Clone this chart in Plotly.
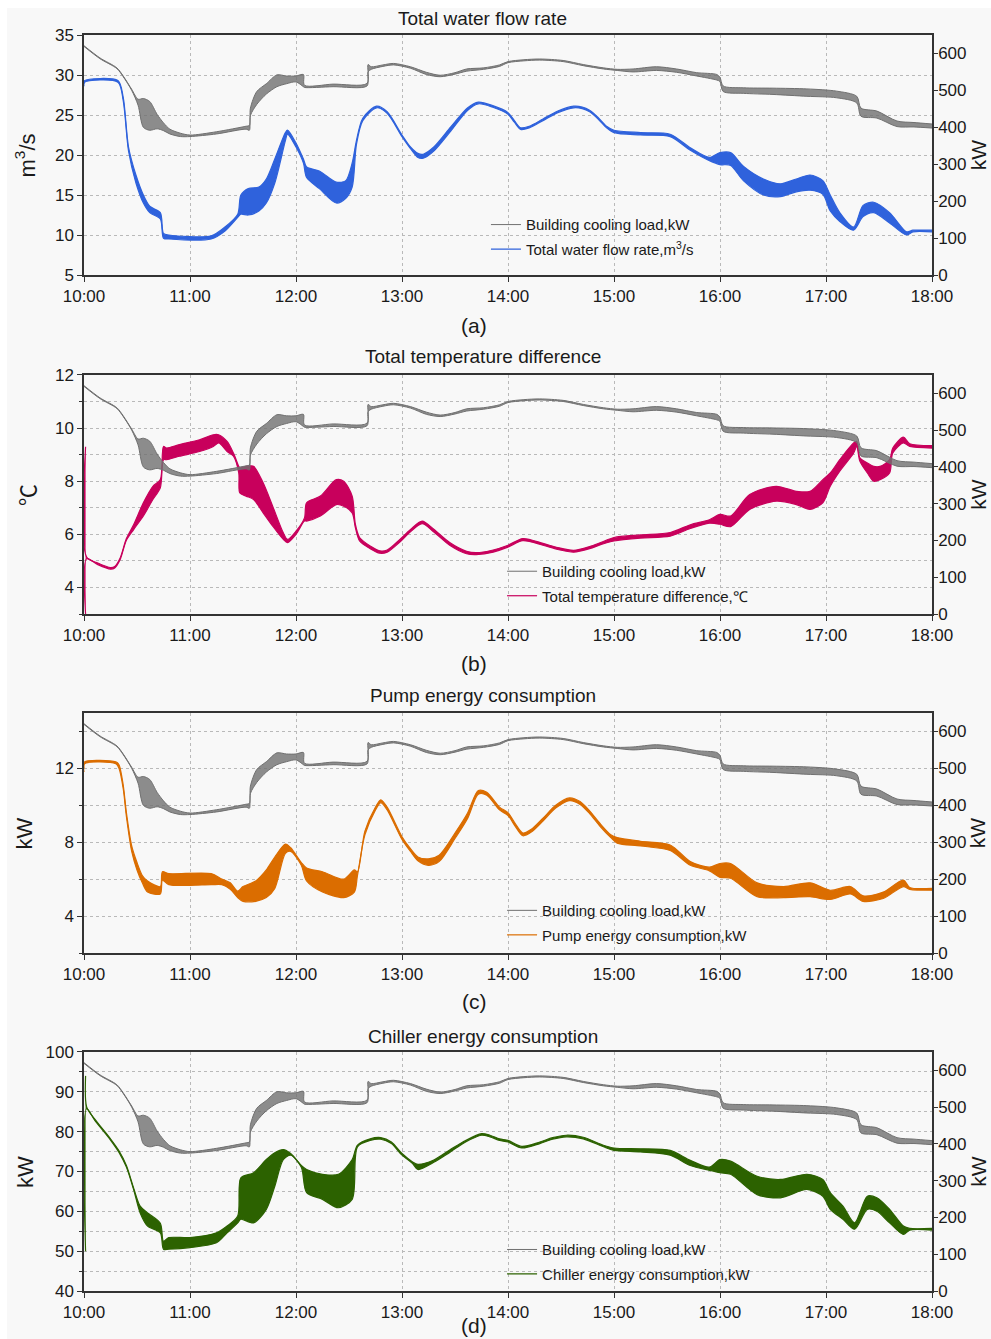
import plotly.graph_objects as go

# ---------------- time axis ----------------
HOUR_TICKS = [10, 11, 12, 13, 14, 15, 16, 17, 18]
HOUR_LABELS = ["10:00", "11:00", "12:00", "13:00", "14:00", "15:00", "16:00", "17:00", "18:00"]

# ---------------- building cooling load (kW), lower / upper envelope ----------------
T_LOAD = [10.00, 10.15, 10.31, 10.37, 10.45, 10.51, 10.56, 10.62, 10.69, 10.75, 10.81, 10.91,
          11.00, 11.25, 11.53, 11.56, 11.57, 11.63, 11.72, 11.82, 11.91, 12.00, 12.07, 12.08,
          12.35, 12.67, 12.68, 12.71, 12.82, 12.92, 13.08, 13.23, 13.36, 13.50, 13.61, 13.77, 13.92,
          14.00, 14.15, 14.30, 14.52, 14.71, 14.90, 15.03, 15.18, 15.40, 15.59, 15.78, 15.97, 16.00,
          16.03, 16.22, 16.50, 16.82, 17.10, 17.29, 17.33, 17.48, 17.67, 17.83, 18.00]
LOAD_LO = [619, 586, 559, 537, 500, 460, 400, 392, 396, 391, 382, 375,
           375, 382, 395, 392, 432, 462, 490, 510, 518, 523, 510, 508,
           510, 512, 550, 557, 565, 569, 560, 543, 537, 544, 552, 557, 565,
           575, 580, 582, 578, 567, 558, 554, 550, 554, 549, 539, 528, 524,
           497, 492, 489, 484, 480, 466, 430, 425, 402, 401, 398]
LOAD_HI = [621, 588, 561, 539, 503, 476, 478, 470, 435, 412, 395, 384,
           379, 388, 403, 405, 452, 497, 518, 542, 539, 539, 543, 514,
           517, 519, 570, 564, 569, 573, 564, 549, 541, 548, 558, 561, 569,
           578, 583, 585, 581, 570, 561, 557, 558, 564, 558, 548, 543, 535,
           512, 507, 506, 504, 498, 484, 452, 444, 417, 413, 409]

# ---------------- total water flow rate (m3/s) ----------------
T_FLOW = [10.000, 10.005, 10.32, 10.37, 10.42, 10.49, 10.56, 10.62, 10.72, 10.75, 10.80, 11.20,
          11.33, 11.45, 11.48, 11.55, 11.65, 11.72, 11.80, 11.90, 11.92, 12.00, 12.07, 12.10,
          12.22, 12.38, 12.47, 12.53, 12.57, 12.63, 12.76, 12.86, 13.00, 13.08, 13.15, 13.20, 13.30,
          13.46, 13.62, 13.72, 13.85, 14.00, 14.06, 14.12, 14.20, 14.33, 14.47, 14.62, 14.70, 14.77,
          14.85, 14.93, 15.00, 15.25, 15.53, 15.72, 15.90, 16.00, 16.10, 16.22, 16.41, 16.57, 16.72,
          16.85, 16.97, 17.04, 17.13, 17.26, 17.35, 17.45, 17.60, 17.76, 17.82, 18.00]
FLOW_LO = [28.6, 29.1, 29.1, 26.8, 20.5, 16.5, 14.0, 12.8, 12.0, 9.6, 9.5, 9.5,
           10.5, 12.2, 12.6, 12.5, 13.0, 14.0, 16.5, 21.8, 22.6, 21.0, 19.0, 17.2,
           15.8, 14.0, 14.6, 16.0, 21.3, 24.3, 25.9, 25.2, 22.3, 20.8, 19.7, 19.6, 20.5,
           23.0, 25.6, 26.4, 26.0, 25.1, 24.1, 23.2, 23.4, 24.3, 25.3, 25.9, 25.8, 25.4,
           24.5, 23.4, 22.8, 22.5, 22.3, 20.6, 19.3, 18.8, 18.7, 16.8, 15.0, 14.8, 15.4,
           15.6, 15.1, 13.0, 11.7, 10.6, 12.3, 12.8, 11.5, 10.0, 10.4, 10.4]
FLOW_HI = [28.9, 29.3, 29.3, 27.2, 21.0, 17.5, 15.0, 13.6, 12.8, 10.2, 10.0, 9.9,
           11.0, 12.6, 15.0, 15.8, 16.0, 17.0, 19.5, 22.8, 23.1, 21.5, 19.5, 18.5,
           18.0, 16.6, 16.8, 19.0, 21.8, 24.6, 26.1, 25.4, 22.5, 21.0, 20.2, 20.1, 21.0,
           23.5, 25.9, 26.6, 26.2, 25.3, 24.3, 23.4, 23.6, 24.5, 25.5, 26.1, 26.0, 25.6,
           24.7, 23.6, 23.1, 22.8, 22.6, 20.9, 19.7, 20.3, 20.3, 18.6, 17.0, 16.4, 17.0,
           17.5, 16.8, 15.0, 12.8, 11.0, 13.7, 14.1, 12.8, 10.4, 10.6, 10.6]

# ---------------- total temperature difference (degC) ----------------
T_DT = [10.015, 10.025, 10.13, 10.25, 10.29, 10.34, 10.40, 10.47, 10.56, 10.65, 10.72, 10.75,
        10.78, 10.90, 11.09, 11.22, 11.27, 11.35, 11.41, 11.46, 11.47, 11.53, 11.60, 11.69,
        11.78, 11.88, 11.92, 12.00, 12.08, 12.10, 12.23, 12.38, 12.45, 12.53, 12.56, 12.60,
        12.70, 12.79, 12.86, 12.98, 13.08, 13.19, 13.30, 13.45, 13.61, 13.70, 13.86, 14.00, 14.14,
        14.33, 14.47, 14.62, 14.77, 14.88, 15.00, 15.25, 15.53, 15.72, 15.90, 16.00, 16.10, 16.28,
        16.53, 16.72, 16.85, 16.97, 17.04, 17.13, 17.26, 17.29, 17.32, 17.39, 17.45, 17.51, 17.60,
        17.63, 17.73, 17.79, 18.00]
DT_LO = [3.00, 5.08, 4.86, 4.69, 4.73, 5.04, 5.78, 6.19, 6.69, 7.31, 7.75, 8.81,
         8.81, 8.94, 9.12, 9.31, 9.44, 9.12, 8.94, 8.31, 7.56, 7.44, 7.31, 6.81,
         6.31, 5.81, 5.69, 6.00, 6.50, 6.50, 6.69, 7.12, 7.06, 6.81, 6.25, 5.75,
         5.46, 5.29, 5.33, 5.71, 6.10, 6.40, 6.09, 5.59, 5.27, 5.24, 5.33, 5.52, 5.76,
         5.59, 5.43, 5.33, 5.46, 5.62, 5.75, 5.86, 5.93, 6.22, 6.42, 6.38, 6.29, 6.94,
         7.25, 7.12, 6.94, 7.19, 7.81, 8.38, 9.06, 9.31, 8.75, 8.31, 8.00, 8.06, 8.31,
         9.06, 9.44, 9.31, 9.25]
DT_HI = [9.30, 5.14, 4.92, 4.75, 4.79, 5.10, 5.84, 6.38, 7.19, 7.81, 8.06, 9.31,
         9.25, 9.38, 9.56, 9.75, 9.75, 9.50, 9.06, 8.56, 8.50, 8.56, 8.56, 7.94,
         7.06, 6.06, 5.81, 6.12, 6.62, 7.19, 7.44, 8.06, 8.00, 7.44, 6.38, 5.88,
         5.56, 5.38, 5.41, 5.81, 6.18, 6.50, 6.19, 5.69, 5.36, 5.31, 5.41, 5.59, 5.84,
         5.66, 5.50, 5.40, 5.54, 5.70, 5.88, 5.98, 6.07, 6.36, 6.55, 6.75, 6.69, 7.50,
         7.81, 7.62, 7.62, 8.06, 8.31, 8.81, 9.44, 9.50, 8.88, 8.69, 8.56, 8.56, 8.81,
         9.25, 9.66, 9.41, 9.34]

# ---------------- pump energy consumption (kW) ----------------
T_PUMP = [10.000, 10.005, 10.30, 10.33, 10.37, 10.40, 10.45, 10.50, 10.55, 10.60, 10.72, 10.74,
          10.80, 11.20, 11.30, 11.38, 11.45, 11.50, 11.62, 11.72, 11.80, 11.90, 11.95, 12.05,
          12.10, 12.25, 12.45, 12.55, 12.58, 12.65, 12.75, 12.80, 12.86, 13.00, 13.08, 13.15, 13.25,
          13.35, 13.50, 13.62, 13.72, 13.80, 13.92, 14.00, 14.07, 14.14, 14.22, 14.33, 14.45, 14.58,
          14.68, 14.77, 14.87, 14.97, 15.03, 15.25, 15.53, 15.72, 15.90, 16.00, 16.10, 16.35, 16.60,
          16.85, 17.04, 17.23, 17.35, 17.54, 17.73, 17.79, 18.00]
PUMP_LO = [11.80, 12.25, 12.25, 12.00, 10.90, 9.40, 7.50, 6.50, 5.80, 5.30, 5.20, 5.95,
           5.70, 5.70, 5.70, 5.45, 5.00, 4.80, 4.80, 5.00, 5.50, 7.40, 7.50, 6.75,
           5.90, 5.30, 5.00, 5.30, 6.20, 8.40, 9.75, 10.15, 9.75, 8.15, 7.50, 7.00, 6.75,
           6.95, 8.20, 9.30, 10.60, 10.55, 9.75, 9.45, 8.85, 8.35, 8.55, 9.15, 9.85, 10.25,
           10.05, 9.55, 8.85, 8.25, 7.95, 7.80, 7.55, 6.75, 6.45, 6.10, 6.05, 5.05, 5.00,
           5.05, 4.90, 5.20, 4.80, 4.95, 5.60, 5.45, 5.40]
PUMP_HI = [12.00, 12.35, 12.35, 12.20, 11.10, 9.60, 7.80, 6.90, 6.20, 5.90, 5.60, 6.40,
           6.30, 6.30, 6.00, 5.80, 5.35, 5.60, 5.90, 6.50, 7.20, 7.90, 7.70, 6.90,
           6.60, 6.40, 6.00, 6.50, 6.40, 8.60, 9.90, 10.30, 9.90, 8.30, 7.65, 7.20, 7.10,
           7.30, 8.50, 9.60, 10.80, 10.70, 9.90, 9.60, 9.00, 8.50, 8.70, 9.30, 10.00, 10.40,
           10.20, 9.70, 9.00, 8.40, 8.25, 8.05, 7.85, 6.95, 6.65, 6.85, 6.85, 5.80, 5.60,
           5.80, 5.40, 5.60, 5.10, 5.30, 5.95, 5.55, 5.50]

# ---------------- chiller energy consumption (kW) ----------------
T_CHILLER = [10.015, 10.025, 10.10, 10.25, 10.33, 10.40, 10.47, 10.53, 10.60, 10.72, 10.75, 10.80,
             11.00, 11.25, 11.35, 11.45, 11.48, 11.60, 11.72, 11.80, 11.88, 11.95, 12.05, 12.10,
             12.25, 12.40, 12.53, 12.58, 12.70, 12.80, 12.90, 13.00, 13.10, 13.15, 13.30, 13.45,
             13.60, 13.75, 13.83, 13.92, 14.00, 14.13, 14.30, 14.42, 14.55, 14.71, 14.90, 15.00,
             15.25, 15.53, 15.72, 15.90, 16.00, 16.10, 16.35, 16.57, 16.82, 16.97, 17.04, 17.16,
             17.27, 17.39, 17.48, 17.60, 17.73, 17.79, 18.00]
CHILLER_LO = [50.0, 85.8, 82.9, 77.9, 74.8, 71.1, 65.3, 59.6, 56.3, 54.6, 50.5, 50.5,
              50.9, 52.1, 54.6, 57.1, 58.0, 57.1, 60.5, 66.3, 73.0, 74.1, 71.1, 64.7,
              63.0, 60.9, 63.0, 76.2, 77.8, 78.1, 77.0, 74.1, 72.0, 70.5, 72.3, 74.8,
              77.4, 79.1, 78.7, 77.8, 77.4, 75.9, 77.0, 78.1, 78.7, 78.2, 76.2, 75.3,
              74.9, 74.1, 71.5, 70.3, 69.7, 69.3, 64.2, 63.4, 65.5, 63.8, 60.5, 58.0,
              55.5, 60.5, 60.0, 57.1, 54.2, 55.3, 55.3]
CHILLER_HI = [94.0, 86.2, 83.2, 78.2, 75.2, 71.5, 65.7, 61.3, 59.6, 57.0, 52.5, 53.4,
              53.4, 54.6, 56.3, 58.8, 68.4, 69.7, 73.0, 74.7, 75.5, 74.5, 71.5, 70.5,
              69.3, 69.3, 73.0, 76.6, 78.2, 78.5, 77.4, 74.5, 72.4, 71.8, 72.9, 75.4,
              77.8, 79.5, 79.1, 78.2, 77.8, 76.3, 77.4, 78.5, 79.1, 78.6, 76.6, 75.9,
              75.7, 75.3, 72.8, 71.1, 73.0, 72.6, 68.8, 68.0, 69.3, 68.0, 64.7, 61.3,
              57.1, 63.8, 63.4, 60.5, 56.3, 55.7, 55.7]

# ---------------- styling ----------------
FONT = "Liberation Sans, Arial, sans-serif"
BG = "#f8f8f8"
AXIS_COLOR = "#333333"
GRID_COLOR = "#b9b9b9"
LOAD_COLOR = "#707070"
LOAD_FILL = "rgba(112,112,112,0.8)"
LOAD_NAME = "Building cooling load,kW"

PANELS = [
    dict(title="Total water flow rate", tag="(a)", t=T_FLOW, lo=FLOW_LO, hi=FLOW_HI,
         color="#2f62dc", name="Total water flow rate,m<sup>3</sup>/s", ytitle="m<sup>3</sup>/s",
         yrange=[5, 35], dtick=5, tick0=0, minor=None,
         dom=[0.8089, 1.0], title_y=1.0135, tag_y=0.769, leg_y=0.862, leg_x=0.474),
    dict(title="Total temperature difference", tag="(b)", t=T_DT, lo=DT_LO, hi=DT_HI,
         color="#c8005c", name="Total temperature difference,℃", ytitle="℃",
         yrange=[3, 12], dtick=2, tick0=0, minor=1,
         dom=[0.539, 0.7293], title_y=0.7444, tag_y=0.500, leg_y=0.586, leg_x=0.493),
    dict(title="Pump energy consumption", tag="(c)", t=T_PUMP, lo=PUMP_LO, hi=PUMP_HI,
         color="#db6d00", name="Pump energy consumption,kW", ytitle="kW",
         yrange=[2, 15], dtick=4, tick0=0, minor=2,
         dom=[0.2691, 0.4602], title_y=0.4745, tag_y=0.2301, leg_y=0.316, leg_x=0.493),
    dict(title="Chiller energy consumption", tag="(d)", t=T_CHILLER, lo=CHILLER_LO, hi=CHILLER_HI,
         color="#2c6200", name="Chiller energy consumption,kW", ytitle="kW",
         yrange=[40, 100], dtick=10, tick0=0, minor=5,
         dom=[0.0, 0.1903], title_y=0.203, tag_y=-0.0272, leg_y=0.046, leg_x=0.493),
]


def band(fig, t, lo, hi, color, fill, name, xa, ya, legend, group, width):
    line = dict(color=color, width=width, shape="spline", smoothing=0.8)
    fig.add_trace(go.Scatter(x=t, y=lo, mode="lines", line=line, name=name,
                             xaxis=xa, yaxis=ya, legend=legend, legendgroup=group,
                             showlegend=True, hoverinfo="skip"))
    fig.add_trace(go.Scatter(x=t, y=hi, mode="lines", line=line, fill="tonexty",
                             fillcolor=fill, xaxis=xa, yaxis=ya, legend=legend,
                             legendgroup=group, showlegend=False, hoverinfo="skip"))


fig = go.Figure()
layout = dict(
    width=991, height=1339, autosize=False,
    margin=dict(l=84, r=59, t=35, b=48),
    paper_bgcolor=BG, plot_bgcolor=BG,
    font=dict(family=FONT, size=17, color="#1a1a1a"),
    showlegend=True,
)
annotations = []

for i, p in enumerate(PANELS):
    k = i + 1
    xs = "" if k == 1 else str(k)
    yl = 2 * i + 1
    yr = 2 * i + 2
    yls = "" if yl == 1 else str(yl)
    leg = "legend" if k == 1 else f"legend{k}"

    # cooling load on the right-hand axis, the measured series on the left one
    band(fig, T_LOAD, LOAD_LO, LOAD_HI, LOAD_COLOR, LOAD_FILL, LOAD_NAME,
         f"x{xs}", f"y{yr}", leg, f"a{k}", 1.0)
    band(fig, p["t"], p["lo"], p["hi"], p["color"], p["color"], p["name"],
         f"x{xs}", f"y{yls}", leg, f"b{k}", 1.2)

    layout[f"xaxis{xs}"] = dict(
        domain=[0, 1], anchor=f"y{yls}", range=[10, 18],
        tickmode="array", tickvals=HOUR_TICKS, ticktext=HOUR_LABELS,
        ticks="outside", ticklen=5, tickwidth=1.2, tickcolor=AXIS_COLOR,
        showgrid=True, gridcolor=GRID_COLOR, griddash="dot", gridwidth=1,
        showline=True, linecolor=AXIS_COLOR, linewidth=1.5, mirror=True,
        zeroline=False, tickfont=dict(size=17),
    )
    ydef = dict(
        domain=p["dom"], anchor=f"x{xs}", range=p["yrange"],
        tickmode="linear", dtick=p["dtick"], tick0=p["tick0"],
        ticks="outside", ticklen=5, tickwidth=1.2, tickcolor=AXIS_COLOR,
        showgrid=True, gridcolor=GRID_COLOR, griddash="dot", gridwidth=1,
        showline=True, linecolor=AXIS_COLOR, linewidth=1.5,
        zeroline=False, tickfont=dict(size=17),
    )
    if p["minor"]:
        ydef["minor"] = dict(dtick=p["minor"], tick0=0, ticks="outside", ticklen=3,
                             tickcolor=AXIS_COLOR, showgrid=True, gridcolor=GRID_COLOR,
                             griddash="dot", gridwidth=1)
    layout[f"yaxis{yls}"] = ydef
    layout[f"yaxis{yr}"] = dict(
        overlaying=f"y{yls}", side="right", anchor=f"x{xs}", range=[0, 650],
        tickmode="linear", dtick=100, tick0=0,
        ticks="outside", ticklen=4, tickwidth=1.2, tickcolor=AXIS_COLOR,
        ticklabelstandoff=-3,
        showgrid=False, showline=True, linecolor=AXIS_COLOR, linewidth=1.5,
        zeroline=False, tickfont=dict(size=17),
    )
    layout[leg] = dict(
        x=p["leg_x"], y=p["leg_y"], xanchor="left", yanchor="top",
        bgcolor="rgba(0,0,0,0)", borderwidth=0, font=dict(size=15, color="#1a1a1a"),
        traceorder="grouped", tracegroupgap=2, itemwidth=30,
    )

    mid = (p["dom"][0] + p["dom"][1]) / 2
    ytitle_font = dict(size=22, family="Noto Sans CJK SC") if p["ytitle"] == "℃" else dict(size=22)
    annotations += [
        dict(text=p["title"], x=0.4705, y=p["title_y"], xref="paper", yref="paper",
             xanchor="center", yanchor="middle", showarrow=False, font=dict(size=19)),
        dict(text=p["tag"], x=0.46, y=p["tag_y"], xref="paper", yref="paper",
             xanchor="center", yanchor="middle", showarrow=False, font=dict(size=21)),
        dict(text=p["ytitle"], x=-0.069, y=mid, xref="paper", yref="paper",
             xanchor="center", yanchor="middle", showarrow=False, textangle=-90,
             font=ytitle_font),
        dict(text="kW", x=1.0545, y=mid, xref="paper", yref="paper",
             xanchor="center", yanchor="middle", showarrow=False, textangle=-90,
             font=dict(size=21)),
    ]

layout["annotations"] = annotations
# thin white strips along the top and left page edges
layout["shapes"] = [
    dict(type="rect", xref="paper", yref="paper", x0=-84 / 848, x1=-77 / 848, y0=-48 / 1256,
         y1=1 + 35 / 1256, fillcolor="white", line=dict(width=0), layer="below"),
    dict(type="rect", xref="paper", yref="paper", x0=-84 / 848, x1=1 + 59 / 848,
         y0=1 + 27 / 1256, y1=1 + 35 / 1256, fillcolor="white", line=dict(width=0), layer="below"),
]
fig.update_layout(**layout)
fig.write_html("out.html")
